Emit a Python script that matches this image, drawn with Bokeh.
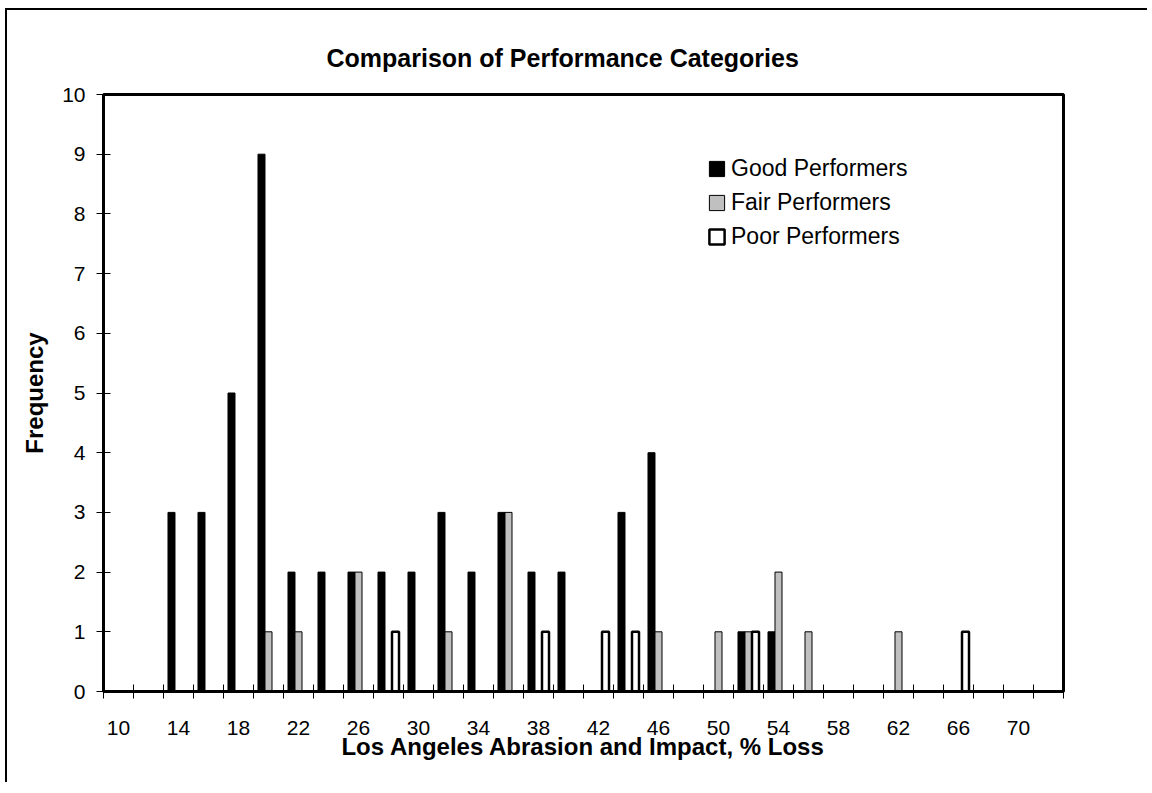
from bokeh.plotting import figure
from bokeh.models import Range1d, FixedTicker, Legend, LegendItem, ColumnDataSource, Column
from bokeh.transform import dodge
from bokeh.embed import file_html
from bokeh.resources import INLINE

# ---- data ----
categories = [10, 12, 14, 16, 18, 20, 22, 24, 26, 28, 30, 32, 34, 36, 38, 40,
              42, 44, 46, 48, 50, 52, 54, 56, 58, 60, 62, 64, 66, 68, 70, 72]
good = [0, 0, 3, 3, 5, 9, 2, 2, 2, 2, 2, 3, 2, 3, 2, 2,
        0, 3, 4, 0, 0, 1, 1, 0, 0, 0, 0, 0, 0, 0, 0, 0]
fair = [0, 0, 0, 0, 0, 1, 1, 0, 2, 0, 0, 1, 0, 3, 0, 0,
        0, 0, 1, 0, 1, 1, 2, 1, 0, 0, 1, 0, 0, 0, 0, 0]
poor = [0, 0, 0, 0, 0, 0, 0, 0, 0, 1, 0, 0, 0, 0, 1, 0,
        1, 1, 0, 0, 0, 1, 0, 0, 0, 0, 0, 0, 1, 0, 0, 0]
x_tick_labels = [10, 14, 18, 22, 26, 30, 34, 38, 42, 46, 50, 54, 58, 62, 66, 70]
y_ticks = [0, 1, 2, 3, 4, 5, 6, 7, 8, 9, 10]
series_names = ["Good Performers", "Fair Performers", "Poor Performers"]

FONT = "Liberation Sans"

src = ColumnDataSource(data=dict(cat=categories, good=good, fair=fair, poor=poor))

p = figure(width=1140, height=772, output_backend="svg", toolbar_location=None,
           x_range=Range1d(categories[0] - 1, categories[-1] + 1),
           y_range=Range1d(y_ticks[0], y_ticks[-1]),
           min_border_left=96, min_border_right=84, min_border_top=84, min_border_bottom=91)

p.background_fill_color = "white"
p.border_fill_color = "white"
p.outline_line_color = "black"
p.outline_line_width = 3
p.xgrid.visible = False
p.ygrid.visible = False

bw = 0.467
r_good = p.vbar(x=dodge("cat", -bw, range=p.x_range), top="good", width=bw, source=src,
                fill_color="black", line_color="black", line_width=1)
r_fair = p.vbar(x=dodge("cat", 0, range=p.x_range), top="fair", width=bw, source=src,
                fill_color="#c0c0c0", line_color="black", line_width=1)
r_poor = p.vbar(x=dodge("cat", bw, range=p.x_range), top="poor", width=bw, source=src,
                fill_color="white", line_color="black", line_width=2.5)

# title
p.title.text = "Comparison of Performance Categories"
p.title.text_font = FONT
p.title.text_font_size = "25px"
p.title.text_font_style = "bold"
p.title.text_color = "black"
p.title.align = "left"
p.title.offset = 223
p.title.standoff = 45

# x axis
xa = p.xaxis[0]
xa.ticker = FixedTicker(ticks=x_tick_labels,
                        minor_ticks=[c - 1 for c in categories] + [categories[-1] + 1])
xa.major_tick_in = 0
xa.major_tick_out = 0
xa.minor_tick_in = 7
xa.minor_tick_out = 7
xa.minor_tick_line_color = "black"
xa.minor_tick_line_width = 1
xa.axis_line_width = 3
xa.axis_line_color = "black"
xa.major_label_text_font = FONT
xa.major_label_text_font_size = "21px"
xa.major_label_text_color = "black"
xa.major_label_standoff = 22
xa.axis_label = "Los Angeles Abrasion and Impact, % Loss"
xa.axis_label_text_font = FONT
xa.axis_label_text_font_size = "24px"
xa.axis_label_text_font_style = "bold"
xa.axis_label_text_color = "black"
xa.axis_label_standoff = -5

# y axis
ya = p.yaxis[0]
ya.ticker = FixedTicker(ticks=y_ticks, minor_ticks=[])
ya.major_tick_in = 7
ya.major_tick_out = 7
ya.major_tick_line_color = "black"
ya.axis_line_width = 3
ya.axis_line_color = "black"
ya.major_label_text_font = FONT
ya.major_label_text_font_size = "21px"
ya.major_label_text_color = "black"
ya.major_label_standoff = 11
ya.axis_label = "Frequency"
ya.axis_label_text_font = FONT
ya.axis_label_text_font_size = "24px"
ya.axis_label_text_font_style = "bold"
ya.axis_label_text_color = "black"
ya.axis_label_standoff = 11

legend = Legend(items=[LegendItem(label=series_names[0], renderers=[r_good]),
                       LegendItem(label=series_names[1], renderers=[r_fair]),
                       LegendItem(label=series_names[2], renderers=[r_poor])],
                location=(604, 441), orientation="vertical",
                border_line_color=None, background_fill_alpha=0,
                padding=0, margin=0, spacing=7,
                glyph_width=19, glyph_height=19, label_height=27,
                label_standoff=5,
                label_text_font=FONT, label_text_font_size="23px",
                label_text_color="black")
p.add_layout(legend)

# outer chart-area border (only its left and top edges fall inside the picture)
layout = Column(children=[p],
                styles={"margin-left": "5px", "margin-top": "8px",
                        "border-left": "2px solid black", "border-top": "2px solid black"})

open("out.html", "w").write(file_html(layout, INLINE))
